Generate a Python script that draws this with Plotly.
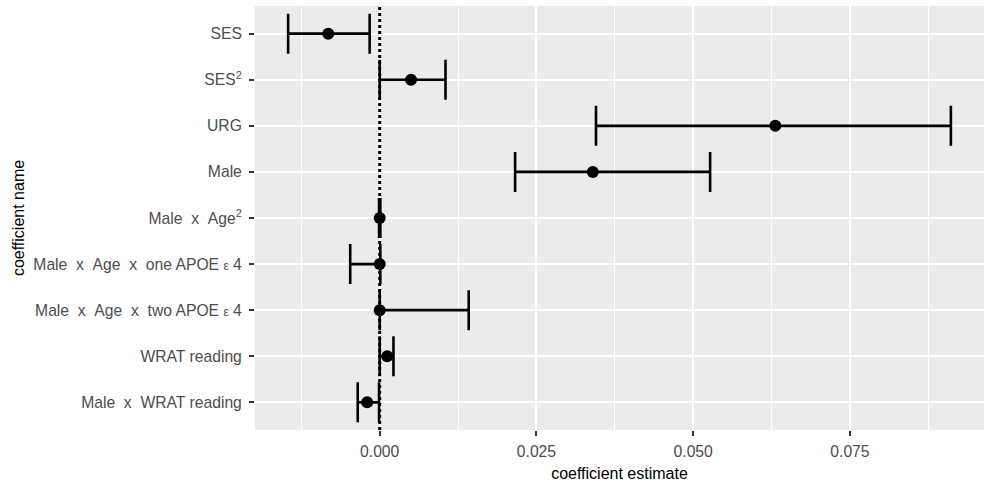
import plotly.graph_objects as go

# ---- data (top to bottom as displayed) ----
coef_names = [
    "SES",
    "SES<sup>2</sup>",
    "URG",
    "Male",
    "Male\u00a0\u00a0x\u00a0\u00a0Age<sup>2</sup>",
    "Male\u00a0\u00a0x\u00a0\u00a0Age\u00a0\u00a0x\u00a0\u00a0one APOE <span style='font-size:12px'>\u03b5</span> 4",
    "Male\u00a0\u00a0x\u00a0\u00a0Age\u00a0\u00a0x\u00a0\u00a0two APOE <span style='font-size:12px'>\u03b5</span> 4",
    "WRAT reading",
    "Male\u00a0\u00a0x\u00a0\u00a0WRAT reading",
]
estimate = [-0.0082, 0.0050, 0.0631, 0.0340, 0.0000, 0.0000, 0.0000, 0.0012, -0.0020]
ci_low = [-0.0146, 0.0000, 0.0345, 0.0216, -0.0001, -0.0047, 0.0000, 0.0000, -0.0035]
ci_high = [-0.0016, 0.0105, 0.0911, 0.0527, 0.0001, 0.0001, 0.0142, 0.0022, -0.0001]
x_tick_vals = [0.0, 0.025, 0.05, 0.075]
x_tick_text = ["0.000", "0.025", "0.050", "0.075"]

err_plus = [h - e for h, e in zip(ci_high, estimate)]
err_minus = [e - l for e, l in zip(estimate, ci_low)]

lo_all, hi_all = min(ci_low), max(ci_high)
pad = 0.05 * (hi_all - lo_all)
x_range = [lo_all - pad, hi_all + pad]

FONT = "Liberation Sans, Arial, Helvetica, sans-serif"
TICK_SIZE = 15.7
TITLE_SIZE = 16

fig = go.Figure()
fig.add_trace(go.Scatter(
    x=estimate,
    y=coef_names,
    mode="markers",
    marker=dict(color="black", size=12),
    error_x=dict(
        type="data",
        symmetric=False,
        array=err_plus,
        arrayminus=err_minus,
        color="black",
        thickness=2.6,
        width=20,
    ),
    showlegend=False,
    hoverinfo="x+y",
))

fig.add_shape(
    type="line", xref="x", yref="paper",
    x0=0, x1=0, y0=0, y1=1,
    line=dict(color="black", width=3, dash="3px,3px"),
    layer="above",
)

fig.update_layout(
    width=989, height=488,
    margin=dict(l=255, r=5, t=6, b=58),
    paper_bgcolor="white",
    plot_bgcolor="#EBEBEB",
    font=dict(family=FONT, size=TICK_SIZE, color="#4D4D4D"),
    xaxis=dict(
        range=x_range,
        tickvals=x_tick_vals,
        ticktext=x_tick_text,
        showgrid=True, gridcolor="white", gridwidth=2,
        minor=dict(dtick=0.0125, tick0=0, showgrid=True, gridcolor="white", gridwidth=1, ticks=""),
        zeroline=False,
        ticks="outside", ticklen=5, tickwidth=2, tickcolor="#333333",
        tickfont=dict(family=FONT, size=TICK_SIZE, color="#4D4D4D"),
        ticklabelstandoff=2,
        title=dict(text="coefficient estimate", font=dict(family=FONT, size=TITLE_SIZE, color="black"), standoff=8),
        showline=False,
        automargin=False,
    ),
    yaxis=dict(
        type="category",
        categoryorder="array",
        categoryarray=coef_names[::-1],
        range=[-0.6, len(coef_names) - 0.4],
        showgrid=True, gridcolor="white", gridwidth=2,
        zeroline=False,
        ticks="outside", ticklen=5, tickwidth=2, tickcolor="#333333",
        tickfont=dict(family=FONT, size=TICK_SIZE, color="#4D4D4D"),
        ticklabelstandoff=4,
        title=dict(text="coefficient name", font=dict(family=FONT, size=TITLE_SIZE, color="black"), standoff=4),
        showline=False,
        automargin=False,
    ),
)

fig.write_html("out.html")
